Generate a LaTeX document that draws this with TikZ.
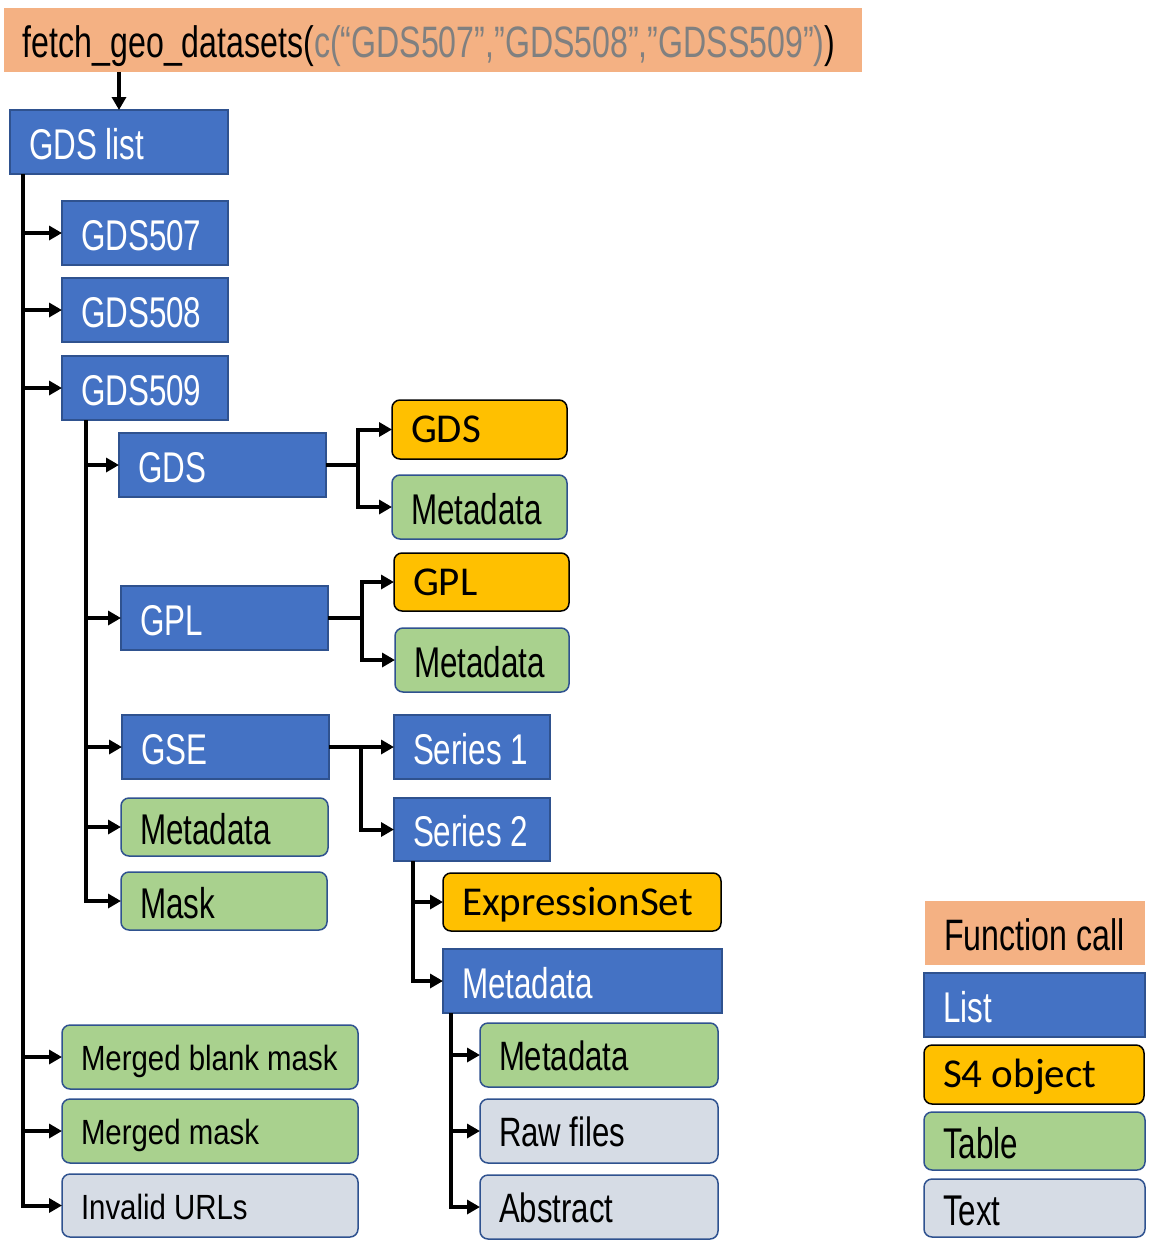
\documentclass[tikz,border=0pt]{standalone}
\usepackage{fontspec}
\setmainfont[FakeStretch=0.73]{Liberation Sans}
\newfontfamily\midfont[FakeStretch=0.76]{Liberation Sans}
\newfontfamily\smallfont[FakeStretch=0.84]{Liberation Sans}
\newfontfamily\sfourfont{Carlito}
\usetikzlibrary{arrows.meta}
\definecolor{callorange}{HTML}{F4B183}
\definecolor{listblue}{HTML}{4472C4}
\definecolor{listline}{HTML}{2F528F}
\definecolor{sfouryellow}{HTML}{FFC000}
\definecolor{tablegreen}{HTML}{A9D18E}
\definecolor{textgrey}{HTML}{D6DCE5}
\definecolor{callgrey}{HTML}{808080}
\tikzset{
 base/.style={inner xsep=19pt, inner ysep=0pt, outer sep=0pt, text height=34pt, text depth=0pt,
   font=\fontsize{43}{48}\selectfont},
 callbox/.style={base, fill=callorange, font=\fontsize{44}{48}\selectfont},
 listbox/.style={base, fill=listblue, draw=listline, line width=1.5pt, text=white},
 sfourbox/.style={base, fill=sfouryellow, draw=black, line width=1.5pt, rounded corners=8pt,
   text height=26pt, font=\sfourfont\fontsize{41}{46}\selectfont},
 tablebox/.style={base, fill=tablegreen, draw=listline, line width=1.5pt, rounded corners=8pt},
 textbox/.style={base, fill=textgrey, draw=listline, line width=1.5pt, rounded corners=8pt},
 midtext/.style={text height=31pt, font=\midfont\fontsize{41}{46}\selectfont},
 smalltext/.style={text height=27pt, font=\smallfont\fontsize{35}{40}\selectfont},
 line/.style={line width=4pt},
 conn/.style={line width=4pt, -{Triangle[length=13pt,width=14pt]}}
}
% style, name, x, y, width, height, text
\newcommand\obj[7]{%
 \pgfmathsetmacro\tw{#5-38}%
 \node[#1, anchor=north west, minimum height=#6pt] (#2) at (#3,#4) {\makebox[\tw pt][l]{#7}};}
\begin{document}
\begin{tikzpicture}[x=1pt,y=-1pt]
 \useasboundingbox (0,0) rectangle (1152,1242);
 % function call and top list
 \obj{callbox}{fcall}{4}{8}{858}{64}{fetch\_geo\_datasets(\textcolor{callgrey}{c(“GDS507”,”GDS508”,”GDSS509”)})}
 \obj{listbox}{gdslist}{10}{110}{218}{64}{GDS list}
 \obj{listbox}{gds507}{62}{201}{166}{64}{GDS507}
 \obj{listbox}{gds508}{62}{278}{166}{64}{GDS508}
 \obj{listbox}{gds509}{62}{356}{166}{64}{GDS509}
 % GDS509 contents
 \obj{listbox}{gds}{119}{433}{207}{64}{GDS}
 \obj{sfourbox}{gdsobj}{392}{400}{175}{59}{GDS}
 \obj{tablebox}{gdsmeta}{392}{475}{175}{64}{Metadata}
 \obj{listbox}{gpl}{121}{586}{207}{64}{GPL}
 \obj{sfourbox}{gplobj}{394}{553}{175}{58}{GPL}
 \obj{tablebox}{gplmeta}{395}{628}{174}{64}{Metadata}
 \obj{listbox}{gse}{122}{715}{207}{64}{GSE}
 \obj{listbox}{series1}{394}{715}{156}{64}{Series 1}
 \obj{listbox}{series2}{394}{798}{156}{63}{Series 2}
 \obj{tablebox}{meta509}{121}{798}{207}{58}{Metadata}
 \obj{tablebox}{mask}{121}{872}{206}{58}{Mask}
 % Series 2 contents
 \obj{sfourbox}{exprset}{443}{873}{278}{58}{ExpressionSet}
 \obj{listbox}{s2meta}{443}{949}{279}{64}{Metadata}
 \obj{tablebox,midtext}{meta2}{480}{1023}{238}{64}{Metadata}
 \obj{textbox,midtext}{raw}{480}{1099}{238}{64}{Raw files}
 \obj{textbox,midtext}{abstract}{480}{1175}{238}{64}{Abstract}
 % merged results
 \obj{tablebox,smalltext}{mbm}{62}{1025}{296}{64}{Merged blank mask}
 \obj{tablebox,smalltext}{mm}{62}{1099}{296}{64}{Merged mask}
 \obj{textbox,smalltext}{urls}{62}{1174}{296}{63}{Invalid URLs}
 % legend
 \obj{callbox}{lcall}{925}{901}{220}{64}{Function call}
 \obj{listbox}{llist}{924}{973}{221}{64}{List}
 \obj{sfourbox}{lsfour}{924}{1045}{220}{59}{S4 object}
 \obj{tablebox}{ltable}{924}{1112}{221}{58}{Table}
 \obj{textbox}{ltext}{924}{1179}{221}{58}{Text}
 % connectors
 \draw[conn] (gdslist.north |- fcall.south) -- (gdslist.north);
 \coordinate (trunk) at ([xshift=13pt]gdslist.south west);
 \foreach \n in {gds507,gds508,gds509,mbm,mm,urls}
   \draw[conn] (trunk) |- (\n.west);
 \coordinate (sub509) at ([xshift=24pt]gds509.south west);
 \foreach \n in {gds,gpl,gse,meta509,mask}
   \draw[conn] (sub509) |- (\n.west);
 \coordinate (gdsfork) at ([xshift=32pt]gds.east);
 \draw[line] (gds.east) -- (gdsfork);
 \draw[conn] (gdsfork) |- (gdsobj.west);
 \draw[conn] (gdsfork) |- (gdsmeta.west);
 \coordinate (gplfork) at ([xshift=34pt]gpl.east);
 \draw[line] (gpl.east) -- (gplfork);
 \draw[conn] (gplfork) |- (gplobj.west);
 \draw[conn] (gplfork) |- (gplmeta.west);
 \coordinate (gsefork) at ([xshift=32pt]gse.east);
 \draw[conn] (gse.east) -- (series1.west);
 \draw[conn] (gsefork) |- (series2.west);
 \coordinate (subs2) at ([xshift=19pt]series2.south west);
 \foreach \n in {exprset,s2meta}
   \draw[conn] (subs2) |- (\n.west);
 \coordinate (subm2) at ([xshift=8pt]s2meta.south west);
 \foreach \n in {meta2,raw,abstract}
   \draw[conn] (subm2) |- (\n.west);
\end{tikzpicture}
\end{document}
